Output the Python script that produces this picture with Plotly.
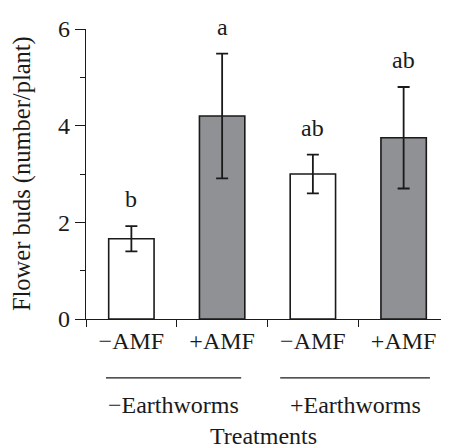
import plotly.graph_objects as go

categories = ["−AMF", "+AMF", "−AMF", "+AMF"]
means = [1.66, 4.20, 3.00, 3.75]
errors = [0.26, 1.29, 0.40, 1.05]
letters = ["b", "a", "ab", "ab"]
bar_colors = ["#ffffff", "#909195", "#ffffff", "#909195"]
groups = ["−Earthworms", "+Earthworms"]
y_ticks = [0, 2, 4, 6]
y_minor = [1, 3, 5]

FONT = "Liberation Serif"
FS = 24
INK = "#1a1a1a"
xs = list(range(len(categories)))

fig = go.Figure()
fig.add_trace(go.Bar(
    x=xs, y=means, width=0.5,
    marker=dict(color=bar_colors, line=dict(color=INK, width=1.6)),
    error_y=dict(type="data", array=errors, visible=True, color=INK,
                 thickness=1.8, width=6),
    showlegend=False,
))

for x, m, e, t in zip(xs, means, errors, letters):
    fig.add_annotation(x=x, y=m + e, text=t, showarrow=False, xref="x", yref="y",
                       yanchor="middle", yshift=27,
                       font=dict(family=FONT, size=FS, color=INK))

# group underline and labels
group_spans = [(-0.28, 1.21), (1.64, 3.29)]
for (x0, x1), g in zip(group_spans, groups):
    fig.add_shape(type="line", xref="x", yref="paper", x0=x0, x1=x1, y0=-0.203, y1=-0.203,
                  line=dict(color=INK, width=1.3))
    fig.add_annotation(x=(x0 + x1) / 2, y=-0.297, xref="x", yref="paper", text=g,
                       showarrow=False, yanchor="middle",
                       font=dict(family=FONT, size=FS, color=INK))

fig.add_annotation(x=0.49, y=-0.405, xref="paper", yref="paper", text="Treatments",
                   showarrow=False, yanchor="middle",
                   font=dict(family=FONT, size=FS, color=INK))

fig.add_annotation(x=-0.176, y=0.5, xref="paper", yref="paper",
                   text="Flower buds (number/plant)", textangle=-90,
                   showarrow=False, xanchor="center", yanchor="middle", borderpad=0,
                   font=dict(family=FONT, size=24.5, color=INK))

# the page adds an 8px body margin, so the figure is offset by 8px
fig.update_layout(
    width=441, height=440,
    margin=dict(l=78, r=0, t=21, b=129),
    paper_bgcolor="white", plot_bgcolor="white",
    font=dict(family=FONT, size=FS, color=INK),
    bargap=0.5,
)
fig.update_xaxes(
    range=[-0.5, 3.5], tickvals=xs, ticktext=categories, ticks="",
    showline=True, linecolor=INK, linewidth=1.3, showgrid=False, zeroline=False,
    minor=dict(tickvals=[-0.5, 0.5, 1.5, 2.5], ticks="outside", ticklen=7,
               tickcolor=INK, tickwidth=1.3, showgrid=False),
    tickfont=dict(family=FONT, size=FS),
)
fig.update_yaxes(
    range=[0, 6], tickvals=y_ticks, ticks="outside", ticklen=10, tickwidth=1.3,
    tickcolor=INK, showline=True, linecolor=INK, linewidth=1.3,
    showgrid=False, zeroline=False,
    minor=dict(tickvals=y_minor, ticks="outside", ticklen=5, tickcolor=INK,
               tickwidth=1.3, showgrid=False),
    tickfont=dict(family=FONT, size=FS),
)

fig.write_html("out.html")
